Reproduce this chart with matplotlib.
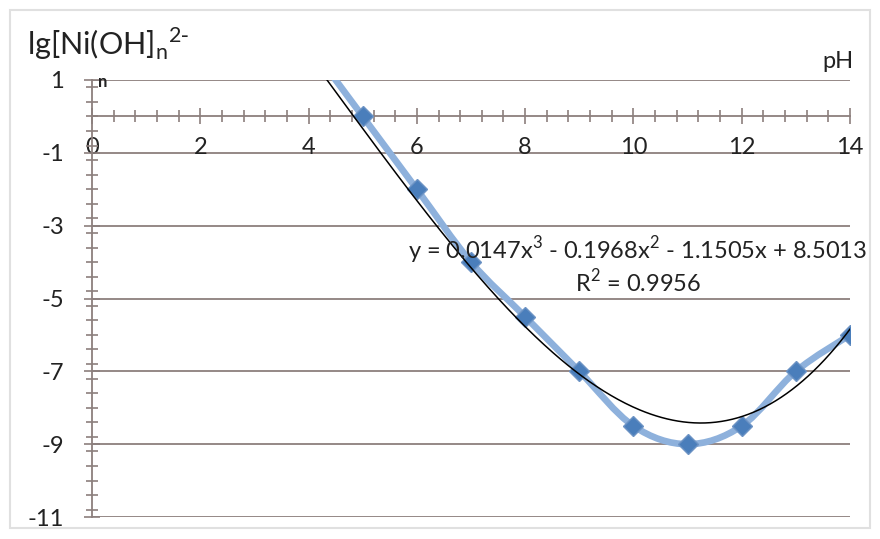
import numpy as np
import matplotlib
matplotlib.use('Agg')
import matplotlib.pyplot as plt
from matplotlib.path import Path
from matplotlib.patches import PathPatch, Rectangle
from matplotlib.ticker import MultipleLocator

plt.rcParams['font.family'] = ['Lato', 'DejaVu Sans']
plt.rcParams['axes.unicode_minus'] = False

# data
ph = [4, 5, 6, 7, 8, 9, 10, 11, 12, 13, 14]
lg_ni = [2, 0, -2, -4, -5.5, -7, -8.5, -9, -8.5, -7, -6]
# polynomial trendline as printed on the chart (highest power first)
trend_coef = [0.0147, -0.1968, -1.1505, 8.5013]
trend_label = r"y = 0.0147x$^{\mathregular{3}}$ - 0.1968x$^{\mathregular{2}}$ - 1.1505x + 8.5013"
r2_label = r"R$^{\mathregular{2}}$ = 0.9956"

grid_col = '#8c7f7d'
txt_col = '#222222'

fig = plt.figure(figsize=(8.8, 5.39), dpi=100)
ax = fig.add_axes([92/880, 1 - 517/539, 758/880, 437/539])
ax.set_xlim(0, 14)
ax.set_ylim(-11, 1)

# outer chart frame
fig.patches.append(Rectangle((10/880, 1 - 528/539), 860/880, 518/539,
                             transform=fig.transFigure, fill=False,
                             edgecolor='#e0e0e0', lw=1.5))

# horizontal gridlines
for yv in np.arange(1, -12, -2):
    ax.axhline(yv, color=grid_col, lw=1.3, zorder=1)

for s in ['top', 'right']:
    ax.spines[s].set_visible(False)
ax.spines['bottom'].set_position(('data', 0))
ax.spines['left'].set_position(('data', 0))
for s in ['bottom', 'left']:
    ax.spines[s].set_color(grid_col)
    ax.spines[s].set_linewidth(1.3)

ax.xaxis.set_major_locator(MultipleLocator(2))
ax.xaxis.set_minor_locator(MultipleLocator(0.4))
ax.set_yticks(np.arange(1, -12, -2))
ax.yaxis.set_minor_locator(MultipleLocator(0.4))
ax.tick_params(axis='both', which='major', direction='inout', length=12,
               color=grid_col, width=1.2, labelsize=17, labelcolor=txt_col)
ax.tick_params(axis='both', which='minor', direction='inout', length=8,
               color=grid_col, width=1.2)
ax.tick_params(axis='x', which='major', pad=9)
ax.tick_params(axis='y', which='major', pad=14)

# smoothed series line (bezier through the points)
pts = np.column_stack([ph, lg_ni]).astype(float)
verts = [pts[0]]
codes = [Path.MOVETO]
for i in range(len(pts) - 1):
    p0 = pts[i - 1] if i > 0 else pts[i]
    p1, p2 = pts[i], pts[i + 1]
    p3 = pts[i + 2] if i + 2 < len(pts) else pts[i + 1]
    verts += [p1 + (p2 - p0) / 6, p2 - (p3 - p1) / 6, p2]
    codes += [Path.CURVE4] * 3
ax.add_patch(PathPatch(Path(verts, codes), fill=False, edgecolor='#8eb1dc',
                       lw=4.8, zorder=3, clip_on=True))
ax.plot(ph, lg_ni, linestyle='none', marker='D', ms=10.5, color='#4a7ebb',
        markeredgecolor='#6d93c4', zorder=4)

# trendline
xt = np.linspace(ph[0], ph[-1], 300)
ax.plot(xt, np.polyval(trend_coef, xt), color='black', lw=1.1, zorder=5)

ax.text(0.72, 0.611, trend_label, transform=ax.transAxes, fontsize=17,
        ha='center', va='center', color=txt_col, zorder=6)
ax.text(0.72, 0.538, r2_label, transform=ax.transAxes, fontsize=17,
        ha='center', va='center', color=txt_col, zorder=6)

# axis titles
fig.text(27/880, 1 - 55/539, r"lg[Ni(OH]$_{\mathregular{n}}$$^{\mathregular{2\text{-}}}$",
         fontsize=22, ha='left', va='baseline', color=txt_col)
fig.text(103/880, 1 - 82/539, "n", fontsize=12, fontweight='bold',
         ha='center', va='center', color=txt_col)
fig.text(838/880, 1 - 62/539, "pH", fontsize=17, ha='center', va='center',
         color=txt_col)

fig.savefig('out.png', dpi=100)
